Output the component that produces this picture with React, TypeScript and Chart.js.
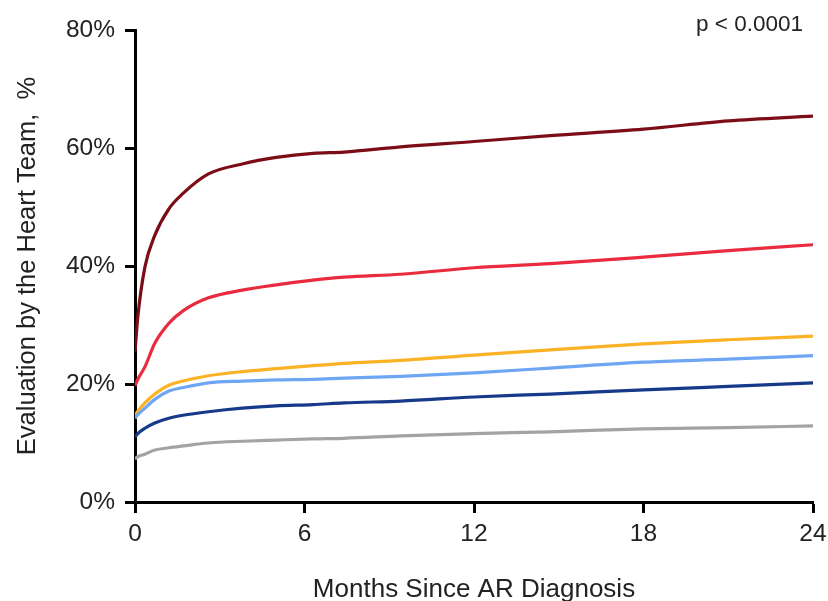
import React, { useEffect, useRef } from "react";
import { Chart, registerables } from "chart.js";

Chart.register(...registerables);

const months = [0, 0.1, 0.35, 0.7, 1.2, 1.7, 2.6, 3.8, 5, 6.3, 7.4, 9.4, 12, 14.7, 18, 21, 24];

const darkRed = [25.5, 31.4, 39.8, 45.2, 49.7, 52.3, 55.6, 57.3, 58.4, 59.1, 59.3, 60.2, 61.1, 62.1, 63.2, 64.6, 65.4];
const red = [19.7, 20.8, 22.9, 26.9, 30.3, 32.4, 34.6, 35.9, 36.8, 37.6, 38.1, 38.6, 39.7, 40.4, 41.5, 42.6, 43.6];
const orange = [14.7, 15.4, 16.8, 18.3, 19.8, 20.5, 21.4, 22.1, 22.6, 23.1, 23.5, 24.0, 24.9, 25.8, 26.8, 27.5, 28.1];
const lightBlue = [14.2, 14.8, 15.9, 17.4, 18.8, 19.4, 20.2, 20.5, 20.7, 20.8, 21.0, 21.3, 21.9, 22.7, 23.7, 24.2, 24.8];
const darkBlue = [11.0, 11.6, 12.5, 13.4, 14.2, 14.7, 15.3, 15.9, 16.3, 16.5, 16.8, 17.1, 17.8, 18.3, 19.0, 19.6, 20.2];
const gray = [7.3, 7.7, 8.1, 8.8, 9.2, 9.5, 10.0, 10.3, 10.5, 10.7, 10.8, 11.2, 11.6, 11.9, 12.4, 12.6, 12.9];

const xTicks = [0, 6, 12, 18, 24];
const yTicks = [0, 20, 40, 60, 80];
const pValueText = "p < 0.0001";
const xTitle = "Months Since AR Diagnosis";
const yTitle = "Evaluation by the Heart Team,  %";

const FONT = "'Liberation Sans', Arial, Helvetica, sans-serif";

const seriesList = [
  { values: gray, color: "#a3a3a3" },
  { values: darkBlue, color: "#17398a" },
  { values: lightBlue, color: "#6ea6f4" },
  { values: orange, color: "#fbb225" },
  { values: red, color: "#ea2a3e" },
  { values: darkRed, color: "#7c0d17" },
];

export default function App() {
  const ref = useRef<HTMLCanvasElement | null>(null);

  useEffect(() => {
    if (!ref.current) return;
    const pPlugin = {
      id: "pvalue",
      afterDraw(chart: any) {
        const ctx = chart.ctx;
        ctx.save();
        ctx.font = `22.5px ${FONT}`;
        ctx.fillStyle = "#222";
        ctx.textAlign = "right";
        ctx.textBaseline = "alphabetic";
        ctx.fillText(pValueText, 803, 31);
        ctx.restore();
      },
    };
    const chart = new Chart(ref.current, {
      type: "line",
      data: {
        datasets: seriesList.map((s) => ({
          data: months.map((m, i) => ({ x: m, y: s.values[i] })),
          borderColor: s.color,
          backgroundColor: s.color,
          borderWidth: 3.2,
          pointRadius: 0,
          cubicInterpolationMode: "monotone" as const,
          fill: false,
        })),
      },
      options: {
        responsive: false,
        animation: false,
        layout: { padding: { top: 30, right: 15, bottom: 0, left: 0 } },
        plugins: { legend: { display: false }, tooltip: { enabled: false } },
        scales: {
          x: {
            type: "linear",
            min: 0,
            max: 24,
            afterFit: (s: any) => {
              s.height = 99;
              s.paddingLeft = 0;
              s.paddingRight = 0;
            },
            afterBuildTicks: (s: any) => {
              s.ticks = xTicks.map((v) => ({ value: v }));
            },
            ticks: {
              color: "#222",
              font: { family: FONT, size: 24.5 },
              padding: 7,
              maxRotation: 0,
            },
            grid: {
              drawOnChartArea: false,
              drawTicks: true,
              tickLength: 11,
              tickWidth: 3,
              tickColor: "#000",
            },
            border: { display: true, color: "#000", width: 3 },
            title: {
              display: true,
              text: xTitle,
              color: "#222",
              font: { family: FONT, size: 26, lineHeight: 0.84 },
              padding: { top: 0, bottom: 0 },
            },
          },
          y: {
            type: "linear",
            min: 0,
            max: 80,
            afterFit: (s: any) => {
              s.width = 135;
              s.paddingTop = 0;
              s.paddingBottom = 0;
            },
            afterBuildTicks: (s: any) => {
              s.ticks = yTicks.map((v) => ({ value: v }));
            },
            ticks: {
              color: "#222",
              font: { family: FONT, size: 24.5 },
              padding: 10,
              callback: (v: any) => `${v}%`,
            },
            grid: {
              drawOnChartArea: false,
              drawTicks: true,
              tickLength: 10,
              tickWidth: 3,
              tickColor: "#000",
            },
            border: { display: true, color: "#000", width: 3 },
            title: {
              display: true,
              text: yTitle,
              color: "#222",
              font: { family: FONT, size: 25.5, lineHeight: 1 },
              padding: { top: 15, bottom: 0 },
            },
          },
        },
      },
      plugins: [pPlugin],
    });
    return () => chart.destroy();
  }, []);

  return (
    <div style={{ position: "absolute", left: 0, top: 0, width: 828, height: 601, background: "#fff" }}>
      <canvas ref={ref} width={828} height={601} style={{ width: 828, height: 601, display: "block" }} />
    </div>
  );
}
